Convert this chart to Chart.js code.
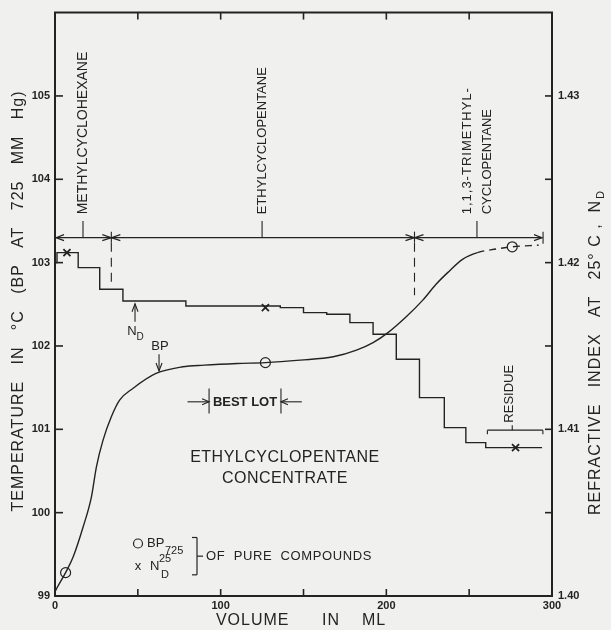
<!DOCTYPE html>
<html lang="en">
<head>
<meta charset="UTF-8">
<title>Ethylcyclopentane concentrate</title>
<style>
  html, body { margin: 0; padding: 0; background: #f0f0ef; }
  #wrap { width: 611px; height: 630px; }
</style>
<script src="https://cdn.jsdelivr.net/npm/chart.js"></script>
</head>
<body>
<div id="wrap"><canvas id="chart" width="611" height="630"></canvas></div>
<script>
// boiling point curve (volume in ml, deg C)
const bpVolume = [0, 1, 6.4, 11, 17, 22, 25, 29, 34, 39, 47, 61, 77, 90, 110, 127, 148, 168, 182, 192, 201, 212, 222, 230, 237, 246, 255, 265, 276, 292];
const bpTemp   = [99.05, 99.09, 99.28, 99.47, 99.83, 100.19, 100.55, 100.87, 101.15, 101.35, 101.49, 101.67, 101.75, 101.77, 101.79, 101.80, 101.83, 101.87, 101.95, 102.04, 102.16, 102.35, 102.55, 102.74, 102.88, 103.04, 103.12, 103.16, 103.19, 103.21];
const bpDashFrom = 255; // curve is dashed past here

// boiling points of the pure compounds
const pureBpVolume = [6.4, 127, 276];
const pureBpTemp   = [99.28, 101.80, 103.19];

// refractive index of the cuts (start of each cut, n_D)
const ndVolume = [0, 1.2, 14, 27, 41, 79, 136, 150, 164, 178, 192, 206, 220, 235, 248, 260, 294];
const ndValue  = [1.4200, 1.4206, 1.4197, 1.4184, 1.4177, 1.4174, 1.4173, 1.4170, 1.4169, 1.4164, 1.4157, 1.4142, 1.4119, 1.4101, 1.4092, 1.4089, 1.4089];

// refractive index of the pure compounds
const pureNdVolume = [7.2, 127, 278];
const pureNdValue  = [1.4206, 1.4173, 1.4089];

// tick labels
const volumeLabels = [0, 100, 200, 300];
const tempLabels   = [99, 100, 101, 102, 103, 104, 105];
const ndLabels     = [1.40, 1.41, 1.42, 1.43];

const ink = '#232323';
const paper = '#f0f0ef';
const face = '"Liberation Sans", Arial, sans-serif';

const toXY = (xs, ys) => xs.map((x, i) => ({ x: x, y: ys[i] }));
const near = (v, list) => list.some(l => Math.abs(v - l) < 1e-6);

function arrow(ctx, x, y, dir, len = 8, half = 3) {
  ctx.beginPath();
  if (dir === 'l') { ctx.moveTo(x + len, y - half); ctx.lineTo(x, y); ctx.lineTo(x + len, y + half); }
  if (dir === 'r') { ctx.moveTo(x - len, y - half); ctx.lineTo(x, y); ctx.lineTo(x - len, y + half); }
  if (dir === 'u') { ctx.moveTo(x - half, y + len); ctx.lineTo(x, y); ctx.lineTo(x + half, y + len); }
  if (dir === 'd') { ctx.moveTo(x - half, y - len); ctx.lineTo(x, y); ctx.lineTo(x + half, y - len); }
  ctx.stroke();
}

function line(ctx, x1, y1, x2, y2) {
  ctx.beginPath(); ctx.moveTo(x1, y1); ctx.lineTo(x2, y2); ctx.stroke();
}

function text(ctx, s, x, y, o = {}) {
  ctx.save();
  ctx.translate(x, y);
  if (o.rot) ctx.rotate(-Math.PI / 2);
  ctx.font = o.font || ('13px ' + face);
  ctx.letterSpacing = o.spacing || '0px';
  ctx.textAlign = o.align || 'left';
  ctx.textBaseline = o.base || 'middle';
  ctx.fillStyle = ink;
  ctx.fillText(s, 0, 0);
  const w = ctx.measureText(s).width;
  ctx.restore();
  return w;
}

const paperPlugin = {
  id: 'paper',
  beforeDraw(chart) {
    const c = chart.ctx;
    c.save(); c.fillStyle = paper; c.fillRect(0, 0, chart.width, chart.height); c.restore();
  }
};

const notes = {
  id: 'notes',
  afterDraw(chart) {
    const c = chart.ctx;
    const { x, y, y2 } = chart.scales;
    const a = chart.chartArea;
    const X = v => x.getPixelForValue(v);
    const Y = v => y.getPixelForValue(v);
    c.save();
    c.strokeStyle = ink;
    c.lineCap = 'butt';

    // top frame line and inward ticks
    c.lineWidth = 2;
    line(c, a.left - 1, a.top, a.right + 1, a.top);
    c.lineWidth = 1.6;
    x.ticks.forEach(t => {
      if (t.value <= 0 || t.value >= 300) return;
      const px = X(t.value);
      line(c, px, a.bottom, px, a.bottom - 7);
      line(c, px, a.top, px, a.top + 7);
    });
    y.ticks.forEach(t => {
      if (t.value <= 99 || t.value >= 106) return;
      const py = Y(t.value);
      line(c, a.left, py, a.left + 8, py);
    });
    y2.ticks.forEach(t => {
      if (t.value <= 1.4 + 1e-6 || t.value >= 1.435 - 1e-6) return;
      const py = y2.getPixelForValue(t.value);
      line(c, a.right, py, a.right - 7, py);
    });

    // component ranges: double arrow line
    c.lineWidth = 1.1;
    const ly = Y(103.30);
    line(c, a.left, ly, X(294), ly);
    arrow(c, a.left + 1, ly, 'l');
    arrow(c, X(294), ly, 'r');
    line(c, X(294) + 1, ly - 6, X(294) + 1, ly + 6);
    [34, 217].forEach(v => {
      const px = X(v);
      arrow(c, px, ly, 'r', 9, 3);
      arrow(c, px, ly, 'l', 9, 3);
      line(c, px, ly - 6, px, ly + 5);
    });
    // dashed cut lines
    c.setLineDash([9, 6]);
    line(c, X(34), ly + 5, X(34), Y(102.71));
    line(c, X(217), ly + 5, X(217), Y(102.61));
    c.setLineDash([]);
    // leaders to the names
    [16.9, 125, 254.7].forEach(v => line(c, X(v), ly, X(v), Y(103.50)));

    const nameFont = '13px ' + face;
    text(c, 'METHYLCYCLOHEXANE', X(16.9), Y(103.58), { rot: true, font: '14px ' + face });
    text(c, 'ETHYLCYCLOPENTANE', X(125), Y(103.58), { rot: true, font: nameFont });
    text(c, '1,1,3-TRIMETHYL-', X(248.8), Y(103.58), { rot: true, font: nameFont, spacing: '1px' });
    text(c, 'CYCLOPENTANE', X(261), Y(103.58), { rot: true, font: nameFont });

    // N_D pointer
    const nx = X(48.3);
    line(c, nx, Y(102.53) + 2, nx, Y(102.29));
    arrow(c, nx, Y(102.53) + 2, 'u', 8, 3);
    text(c, 'N', nx - 3, Y(102.18), { align: 'center', font: '13px ' + face });
    text(c, 'D', nx + 5, Y(102.10), { align: 'center', font: '10px ' + face });

    // BP pointer
    const bx = X(62.8);
    text(c, 'BP', bx + 1, Y(101.99), { align: 'center', font: '13px ' + face });
    line(c, bx, Y(101.90), bx, Y(101.70));
    arrow(c, bx, Y(101.70), 'd', 8, 3);

    // best lot
    const by = Y(101.33);
    line(c, X(93), Y(101.49), X(93), Y(101.19));
    line(c, X(136.4), Y(101.49), X(136.4), Y(101.19));
    line(c, X(80), by, X(93), by);
    arrow(c, X(93), by, 'r', 7, 3);
    line(c, X(149), by, X(136.4), by);
    arrow(c, X(136.4), by, 'l', 7, 3);
    text(c, 'BEST LOT', X(114.7), by + 1, { align: 'center', font: 'bold 13px ' + face });

    // sample name
    text(c, 'ETHYLCYCLOPENTANE', X(138.8), Y(100.66), { align: 'center', font: '16px ' + face, spacing: '0.5px' });
    text(c, 'CONCENTRATE', X(138.8), Y(100.41), { align: 'center', font: '16px ' + face, spacing: '0.5px' });

    // residue bracket
    const ry = Y(100.99);
    line(c, X(261), ry, X(294.5), ry);
    line(c, X(261), ry, X(261), ry + 4);
    line(c, X(294.5), ry, X(294.5), ry + 4);
    line(c, X(276), ry, X(276), ry - 5);
    text(c, 'RESIDUE', X(274.6), Y(101.08), { rot: true, font: nameFont });

    // key
    const kx = X(50.1), k1 = Y(99.63), k2 = Y(99.35);
    c.lineWidth = 1.2;
    c.beginPath(); c.arc(kx, k1, 4.5, 0, Math.PI * 2); c.stroke();
    text(c, 'BP', kx + 9, k1, { font: '13px ' + face });
    text(c, '725', kx + 27, k1 + 7, { font: '11px ' + face });
    text(c, 'x', kx, k2, { align: 'center', font: '13px ' + face });
    text(c, 'N', kx + 12, k2, { font: '13px ' + face });
    text(c, '25', kx + 21, k2 - 8, { font: '11px ' + face });
    text(c, 'D', kx + 23, k2 + 8, { font: '11px ' + face });
    const bkx = kx + 59;
    line(c, bkx, k1 - 6, bkx, k2 + 8);
    line(c, bkx - 5, k1 - 6, bkx, k1 - 6);
    line(c, bkx - 5, k2 + 8, bkx, k2 + 8);
    const km = (k1 + k2) / 2 + 1;
    line(c, bkx, km, bkx + 6, km);
    text(c, 'OF  PURE  COMPOUNDS', bkx + 9, km, { font: '13px ' + face, spacing: '0.6px' });

    // axis titles
    const tf = '16px ' + face;
    text(c, 'TEMPERATURE   IN   °C   (BP   AT   725   MM   Hg)', 19, 301, { rot: true, align: 'center', font: tf, spacing: '1px' });
    const w = text(c, 'REFRACTIVE   INDEX   AT   25° C ,  N', 596, 515, { rot: true, font: tf, spacing: '1px' });
    c.save(); c.translate(596, 515); c.rotate(-Math.PI / 2);
    c.font = '11px ' + face; c.fillStyle = ink; c.textBaseline = 'middle';
    c.fillText('D', w + 1, 5);
    c.restore();
    text(c, 'VOLUME      IN    ML', 301, 621, { align: 'center', font: tf, spacing: '1px' });

    c.restore();
  }
};

const tickFont = { family: face, size: 11, weight: 'bold' };

new Chart(document.getElementById('chart'), {
  type: 'line',
  data: {
    datasets: [
      {
        label: 'BP',
        data: toXY(bpVolume, bpTemp),
        yAxisID: 'y',
        borderColor: ink,
        borderWidth: 1.4,
        pointRadius: 0,
        cubicInterpolationMode: 'monotone',
        segment: { borderDash: s => s.p0.parsed.x >= bpDashFrom ? [7, 5] : undefined }
      },
      {
        label: 'BP pure',
        data: toXY(pureBpVolume, pureBpTemp),
        yAxisID: 'y',
        showLine: false,
        pointStyle: 'circle',
        pointRadius: 5,
        pointBorderWidth: 1.2,
        pointBorderColor: ink,
        pointBackgroundColor: paper
      },
      {
        label: 'N_D',
        data: toXY(ndVolume, ndValue),
        yAxisID: 'y2',
        borderColor: ink,
        borderWidth: 1.4,
        pointRadius: 0,
        stepped: 'before'
      },
      {
        label: 'N_D pure',
        data: toXY(pureNdVolume, pureNdValue),
        yAxisID: 'y2',
        showLine: false,
        pointStyle: 'crossRot',
        pointRadius: 5,
        pointBorderWidth: 1.8,
        pointBorderColor: ink
      }
    ]
  },
  options: {
    responsive: false,
    animation: false,
    devicePixelRatio: 1,
    layout: { padding: { top: 11 } },
    plugins: { legend: { display: false }, tooltip: { enabled: false } },
    scales: {
      x: {
        type: 'linear', position: 'bottom', min: 0, max: 300,
        afterFit: s => { s.height = 34; },
        grid: { display: false, drawTicks: false },
        border: { color: ink, width: 2 },
        ticks: {
          stepSize: 50, padding: 3, color: ink, font: tickFont, maxRotation: 0,
          callback: v => near(v, volumeLabels) ? String(v) : ''
        }
      },
      y: {
        position: 'left', min: 99, max: 106,
        afterFit: s => { s.width = 55; },
        grid: { display: false, drawTicks: false },
        border: { color: ink, width: 2 },
        ticks: {
          stepSize: 1, padding: 5, color: ink, font: tickFont,
          callback: v => near(v, tempLabels) ? String(v) : ''
        }
      },
      y2: {
        position: 'right', min: 1.40, max: 1.435,
        afterFit: s => { s.width = 59; },
        grid: { display: false, drawTicks: false },
        border: { color: ink, width: 2 },
        ticks: {
          stepSize: 0.005, padding: 6, color: ink, font: tickFont,
          callback: v => near(v, ndLabels) ? v.toFixed(2) : ''
        }
      }
    }
  },
  plugins: [paperPlugin, notes]
});
</script>
</body>
</html>
